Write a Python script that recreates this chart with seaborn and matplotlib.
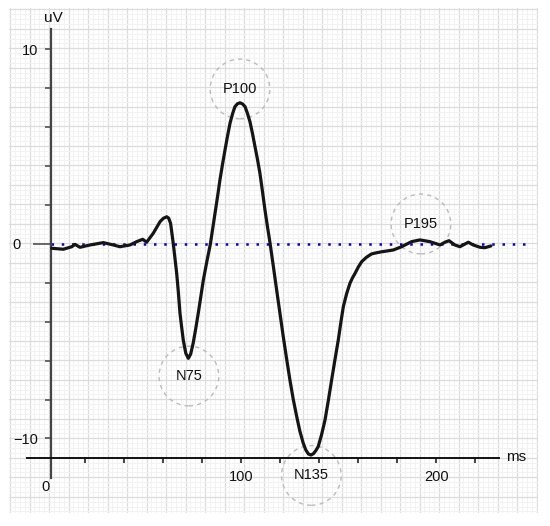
import matplotlib
matplotlib.use('Agg')
import matplotlib.pyplot as plt
import numpy as np
import seaborn as sns

# ERP waveform (ms, uV)
time_ms = [2.7, 8.7, 13.0, 14.7, 17.2, 22.4, 29.2, 34.3, 37.7, 42.9, 46.3, 49.4, 51.4,
           54.8, 58.3, 60.0, 61.7, 62.7, 63.7, 65.1, 66.8, 67.7, 68.5, 69.4, 70.2, 71.5,
           72.8, 74.0, 75.3, 76.6, 77.9, 79.2, 80.5, 82.3, 84.1,
           86.5, 87.8, 89.0, 90.3, 91.6, 92.9, 94.2, 95.5, 96.7, 98.0, 99.3, 100.6, 101.9,
           103.1, 104.4, 105.7, 107.0, 108.3, 109.5, 110.8, 112.1, 113.4, 114.7,
           116.4, 118.1, 119.8, 121.5, 123.2, 124.9, 126.6, 128.4, 130.0, 131.7, 133.0,
           134.4, 135.7, 137.0, 138.2, 139.4, 141.1, 142.9, 144.6, 146.3, 148.0, 149.7,
           151.0, 152.3, 154.0, 155.7, 157.0, 158.3, 160.0, 161.7, 164.2, 166.8, 169.4,
           172.0, 177.9, 182.2, 187.3, 191.6, 196.7, 201.9,
           204.4, 206.5, 209.5, 212.1, 216.4, 218.9, 222.4, 224.9, 228.0]
amp_uv = [-0.22, -0.27, -0.14, -0.02, -0.17, -0.05, 0.07, -0.05, -0.14, -0.05, 0.12, 0.24, 0.09,
          0.55, 1.15, 1.32, 1.40, 1.33, 1.06, 0.0, -1.49, -2.5, -3.55, -4.3, -4.94, -5.62,
          -5.88, -5.66, -5.09, -4.35, -3.55, -2.7, -1.85, -0.9, 0.0,
          1.59, 2.45, 3.29, 4.08, 4.83, 5.55, 6.22, 6.7, 7.06, 7.21, 7.26, 7.2, 7.06,
          6.72, 6.29, 5.68, 5.00, 4.33, 3.65, 2.72, 1.75, 0.88, 0.05,
          -1.15, -2.37, -3.57, -4.77, -5.9, -6.99, -7.98, -8.88, -9.62, -10.23, -10.58,
          -10.8, -10.85, -10.78, -10.62, -10.42, -9.82, -9.05, -8.05, -6.99, -5.95, -4.94,
          -4.05, -3.22, -2.55, -2.02, -1.74, -1.51, -1.18, -0.91, -0.68, -0.51, -0.45,
          -0.40, -0.31, -0.14, 0.12, 0.21, 0.12, -0.05,
          0.09, 0.17, -0.05, -0.14, 0.09, -0.05, -0.17, -0.19, -0.10]

peak_names = ['N75', 'P100', 'N135', 'P195']
peak_ms = [73.1, 99.3, 135.9, 192.1]
peak_uv = [-6.79, 7.97, -11.9, 1.03]

x_ticks = [20, 40, 60, 80, 100, 120, 140, 160, 180, 200, 220]
x_labels = ['', '', '', '', '100', '', '', '', '', '200', '']
y_ticks = [-10, -8, -6, -4, -2, 2, 4, 6, 8, 10]
y_labels = ['\u221210', '', '', '', '', '', '', '', '', '10']

sns.set_style('white')
plt.rcParams['font.family'] = ['Liberation Sans', 'DejaVu Sans']

W, H = 550, 526
fig = plt.figure(figsize=(W / 100, H / 100), dpi=100)

# graph-paper background, in pixel units
gx0, gx1, gy0, gy1 = 9, 538, 8, 513
bg = fig.add_axes([gx0 / W, 1 - gy1 / H, (gx1 - gx0) / W, (gy1 - gy0) / H])
bg.set_xlim(gx0, gx1)
bg.set_ylim(gy1, gy0)
bg.set_xticks(np.arange(10, gx1, 19.5))
bg.set_xticks(np.arange(10, gx1, 19.5 / 4), minor=True)
bg.set_yticks(np.arange(9.3, gy1, 19.5))
bg.set_yticks(np.arange(9.3, gy1, 19.5 / 4), minor=True)
bg.grid(which='major', color='#dcdcdc', lw=0.9)
bg.grid(which='minor', color='#f2f2f2', lw=0.7)
bg.tick_params(which='both', length=0, labelbottom=False, labelleft=False)
for s in bg.spines.values():
    s.set_visible(False)

# main chart axes covering the whole figure
ax = fig.add_axes([0, 0, 1, 1], zorder=2)
ax.patch.set_alpha(0)
ax.set_xlim(-23.8, 258.3)
ax.set_ylim(-14.5, 12.545)

ax.plot([2.4, 246], [0, 0], color='#0000dd', lw=1.8, linestyle=(0, (1, 3.1)), zorder=1)
sns.lineplot(x=time_ms, y=amp_uv, color='#151515', lw=2.3, ax=ax, zorder=3,
             solid_joinstyle='round', solid_capstyle='round')

ax.scatter(peak_ms, peak_uv, s=1850, facecolors='none', edgecolors='#bbbbbb',
           linewidths=1.0, linestyle=(0, (3, 3)), zorder=2)
for name, px, py in zip(peak_names, peak_ms, peak_uv):
    ax.text(px, py, name, ha='center', va='center', fontsize=10.5, color='#111111', zorder=4)

ax.spines['top'].set_visible(False)
ax.spines['right'].set_visible(False)
ax.spines['left'].set_position(('data', 2.4))
ax.spines['left'].set_bounds(-12.03, 11.05)
ax.spines['left'].set_color('#444444')
ax.spines['left'].set_linewidth(1.6)
ax.spines['bottom'].set_position(('data', -11))
ax.spines['bottom'].set_bounds(-10, 232)
ax.spines['bottom'].set_color('#111111')
ax.spines['bottom'].set_linewidth(1.4)

ax.set_xticks(x_ticks)
ax.set_xticklabels(x_labels)
ax.set_yticks(y_ticks)
ax.set_yticklabels(y_labels)
ax.set_yticks([0], minor=True)
ax.set_yticklabels(['0'], minor=True)
ax.tick_params(axis='x', which='major', bottom=True, length=3.6, width=1.1, pad=5,
               labelsize=10.5, color='#111111', labelcolor='#111111')
ax.tick_params(axis='y', which='major', left=True, length=4.5, width=1.1, pad=5,
               labelsize=10.5, color='#444444', labelcolor='#111111')
ax.tick_params(axis='y', which='minor', left=True, length=13, width=1.1, pad=9,
               labelsize=10.5, color='#444444', labelcolor='#111111')
ax.tick_params(axis='x', which='minor', bottom=False)

ax.text(-0.7, -12.5, '0', ha='center', va='center', fontsize=10.5, color='#111111')
ax.text(3.4, 11.6, 'uV', ha='center', va='center', fontsize=11, color='#111111')
ax.text(235.7, -10.95, 'ms', ha='left', va='center', fontsize=11, color='#111111')

fig.savefig('out.png', dpi=100, facecolor='white')
